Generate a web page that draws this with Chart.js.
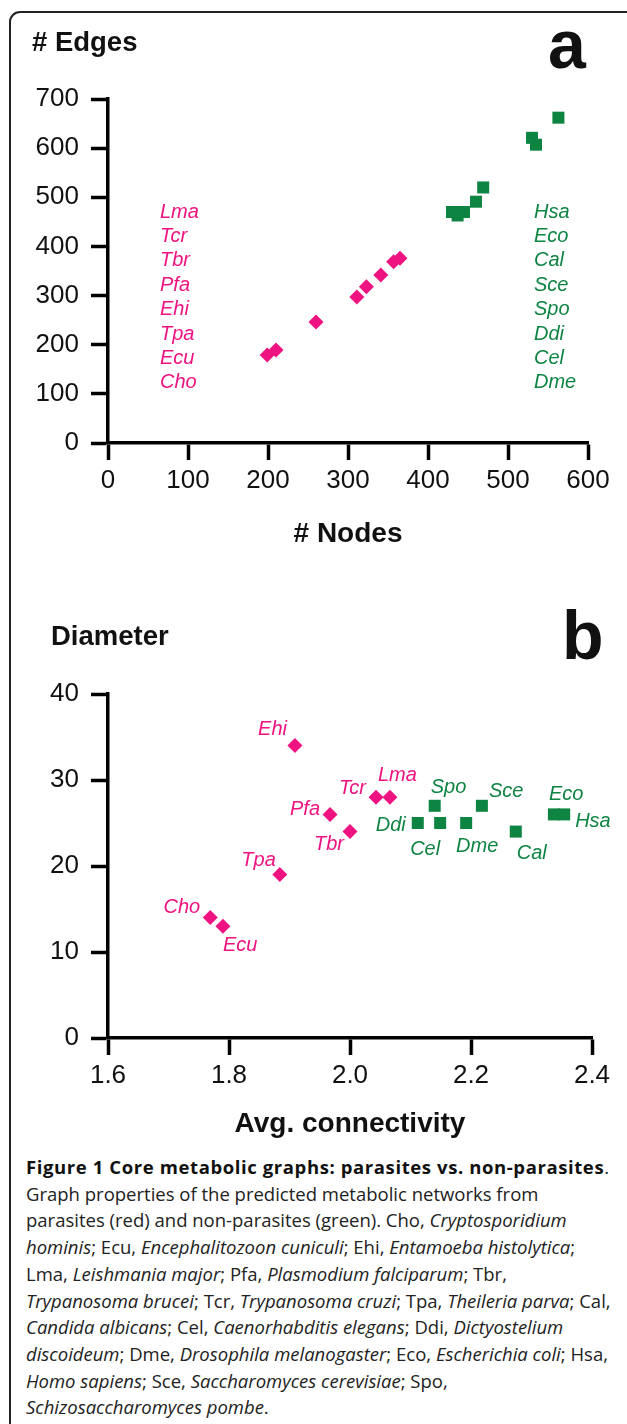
<!DOCTYPE html>
<html lang="en">
<head>
<meta charset="UTF-8">
<title>Core metabolic graphs</title>
<script src="https://cdn.jsdelivr.net/npm/chart.js"></script>
<style>
    body { margin: 0; background: #fff; width: 627px; height: 1424px; position: relative; overflow: hidden; font-family: "Liberation Sans", Arial, sans-serif; color: #111; }
    .frame { position: absolute; left: 9px; top: 11px; width: 640px; height: 1430px; border: 2px solid #222; border-radius: 11px; box-sizing: border-box; }
    .wrap { position: absolute; left: 0; }
    .lbl { position: absolute; font-weight: bold; white-space: nowrap; }
    .caption { position: absolute; left: 26px; top: 1154px; font-family: "Open Sans", sans-serif; font-size: 18.5px; line-height: 26.7px; color: #222; white-space: nowrap; }
    .caption b { color: #111; letter-spacing: 0.6px; }
</style>
</head>
<body>
<div class="frame"></div>

<div class="wrap" style="top:0; width:627px; height:563px;"><canvas id="chartA"></canvas></div>
<div class="wrap" style="top:580px; width:627px; height:568px;"><canvas id="chartB"></canvas></div>

<div class="lbl" style="left:32px; top:26px; font-size:27.5px;"># Edges</div>
<div class="lbl" style="left:548px; top:5px; font-size:68px;">a</div>
<div class="lbl" style="left:51px; top:620px; font-size:27.5px;">Diameter</div>
<div class="lbl" style="left:562px; top:596px; font-size:68px;">b</div>

<div class="caption">
<b>Figure 1 Core metabolic graphs: parasites vs. non-parasites</b>.<br>
Graph properties of the predicted metabolic networks from<br>
parasites (red) and non-parasites (green). Cho, <i>Cryptosporidium</i><br>
<i>hominis</i>; Ecu, <i>Encephalitozoon cuniculi</i>; Ehi, <i>Entamoeba histolytica</i>;<br>
Lma, <i>Leishmania major</i>; Pfa, <i>Plasmodium falciparum</i>; Tbr,<br>
<i>Trypanosoma brucei</i>; Tcr, <i>Trypanosoma cruzi</i>; Tpa, <i>Theileria parva</i>; Cal,<br>
<i>Candida albicans</i>; Cel, <i>Caenorhabditis elegans</i>; Ddi, <i>Dictyostelium</i><br>
<i>discoideum</i>; Dme, <i>Drosophila melanogaster</i>; Eco, <i>Escherichia coli</i>; Hsa,<br>
<i>Homo sapiens</i>; Sce, <i>Saccharomyces cerevisiae</i>; Spo,<br>
<i>Schizosaccharomyces pombe</i>.
</div>

<script>
// species codes
const parasites = ['Lma', 'Tcr', 'Tbr', 'Pfa', 'Ehi', 'Tpa', 'Ecu', 'Cho'];
const nonParasites = ['Hsa', 'Eco', 'Cal', 'Sce', 'Spo', 'Ddi', 'Cel', 'Dme'];

// panel a: # nodes vs # edges (points are unlabeled in the figure)
const parasiteNodes = [199, 210, 260, 311, 323, 341, 357, 365];
const parasiteEdges = [179, 189, 246, 297, 318, 342, 369, 376];
const nonParasiteNodes = [430, 437, 445, 460, 469, 530, 535, 563];
const nonParasiteEdges = [470, 463, 470, 491, 520, 621, 607, 662];

// panel b: avg. connectivity vs diameter, same order as species lists
const parasiteConnectivity = [2.066, 2.043, 2.0, 1.967, 1.909, 1.884, 1.79, 1.769];
const parasiteDiameter = [28, 28, 24, 26, 34, 19, 13, 14];
const nonParasiteConnectivity = [2.354, 2.337, 2.274, 2.218, 2.14, 2.112, 2.149, 2.192];
const nonParasiteDiameter = [26, 26, 24, 27, 27, 25, 25, 25];

const PINK = '#ee1381';
const GREEN = '#0e8443';
const FONT = "'Liberation Sans', Arial, sans-serif";

// label placement next to each point in panel b: [dx, dy, align]
const labelOffsets = {
    Ehi: [-8, -16, 'right'], Tcr: [-10, -9, 'right'], Lma: [-12, -22, 'left'],
    Pfa: [-10, -5, 'right'], Tbr: [-6, 13, 'right'], Tpa: [-4, -14, 'right'],
    Cho: [-10, -10, 'right'], Ecu: [0, 19, 'left'],
    Ddi: [-12, 2, 'right'], Spo: [-4, -18, 'left'], Cel: [-15, 26, 'center'],
    Dme: [11, 23, 'center'], Sce: [7, -14, 'left'], Cal: [1, 22, 'left'],
    Eco: [-5, -20, 'left'], Hsa: [11, 7, 'left']
};

const toXY = (xs, ys) => xs.map((x, i) => ({ x: x, y: ys[i] }));

const axisStyle = (min, max, step, fmt) => ({
    type: 'linear',
    min: min,
    max: max,
    ticks: {
        stepSize: step,
        color: '#111',
        font: { family: FONT, size: 26 },
        callback: fmt
    },
    grid: { drawOnChartArea: false, drawTicks: true, tickLength: 17, tickWidth: 3.5, tickColor: '#000' },
    border: { display: true, width: 3.5, color: '#000' }
});

const baseOptions = (xAxis, yAxis, pad) => ({
    responsive: true,
    maintainAspectRatio: false,
    animation: false,
    layout: { padding: pad },
    plugins: { legend: { display: false }, tooltip: { enabled: false } },
    scales: { x: xAxis, y: yAxis }
});

// panel a
const xA = axisStyle(0, 600, 100);
xA.ticks.padding = 5;
xA.title = { display: true, text: '# Nodes', color: '#111', font: { family: FONT, size: 28, weight: 'bold' }, padding: { top: 0, bottom: 12 } };
xA.afterFit = s => { s.height = 120; };
const yA = axisStyle(0, 700, 100);
yA.ticks.padding = 12;
yA.afterFit = s => { s.width = 108; };

const listLabels = {
    id: 'listLabels',
    afterDatasetsDraw(chart) {
        const ctx = chart.ctx, area = chart.chartArea;
        ctx.save();
        ctx.font = 'italic 20px ' + FONT;
        ctx.textBaseline = 'middle';
        ctx.textAlign = 'left';
        parasites.forEach((name, i) => {
            ctx.fillStyle = PINK;
            ctx.fillText(name, area.left + 52, area.top + 113 + i * 24.4);
        });
        nonParasites.forEach((name, i) => {
            ctx.fillStyle = GREEN;
            ctx.fillText(name, area.left + 426, area.top + 113 + i * 24.4);
        });
        ctx.restore();
    }
};

new Chart(document.getElementById('chartA'), {
    type: 'scatter',
    data: {
        datasets: [
            { label: 'parasites', data: toXY(parasiteNodes, parasiteEdges), pointStyle: 'rectRot', pointRadius: 7.5, backgroundColor: PINK, borderColor: PINK, borderWidth: 0 },
            { label: 'non-parasites', data: toXY(nonParasiteNodes, nonParasiteEdges), pointStyle: 'rect', pointRadius: 8.5, backgroundColor: GREEN, borderColor: GREEN, borderWidth: 0 }
        ]
    },
    options: baseOptions(xA, yA, { left: 0, right: 39, top: 99, bottom: 0 }),
    plugins: [listLabels]
});

// panel b
const xB = axisStyle(1.6, 2.4, 0.2, v => v.toFixed(1));
xB.ticks.padding = 5;
xB.title = { display: true, text: 'Avg. connectivity', color: '#111', font: { family: FONT, size: 28, weight: 'bold' }, padding: { top: 0, bottom: 7 } };
xB.afterFit = s => { s.height = 110; };
const yB = axisStyle(0, 40, 10);
yB.ticks.padding = 12;
yB.afterFit = s => { s.width = 108; };

const pointLabels = {
    id: 'pointLabels',
    afterDatasetsDraw(chart) {
        const ctx = chart.ctx;
        ctx.save();
        ctx.font = 'italic 20px ' + FONT;
        ctx.textBaseline = 'middle';
        chart.data.datasets.forEach((ds, di) => {
            const names = di === 0 ? parasites : nonParasites;
            ctx.fillStyle = ds.backgroundColor;
            chart.getDatasetMeta(di).data.forEach((pt, i) => {
                const off = labelOffsets[names[i]];
                ctx.textAlign = off[2];
                ctx.fillText(names[i], pt.x + off[0], pt.y + off[1]);
            });
        });
        ctx.restore();
    }
};

new Chart(document.getElementById('chartB'), {
    type: 'scatter',
    data: {
        datasets: [
            { label: 'parasites', data: toXY(parasiteConnectivity, parasiteDiameter), pointStyle: 'rectRot', pointRadius: 7.5, backgroundColor: PINK, borderColor: PINK, borderWidth: 0 },
            { label: 'non-parasites', data: toXY(nonParasiteConnectivity, nonParasiteDiameter), pointStyle: 'rect', pointRadius: 8.5, backgroundColor: GREEN, borderColor: GREEN, borderWidth: 0 }
        ]
    },
    options: baseOptions(xB, yB, { left: 0, right: 35, top: 114, bottom: 0 }),
    plugins: [pointLabels]
});
</script>
</body>
</html>
